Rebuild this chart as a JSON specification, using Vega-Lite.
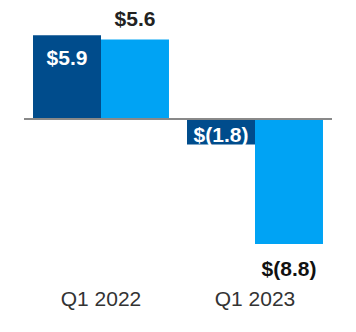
{
  "$schema": "https://vega.github.io/schema/vega-lite/v6.json",
  "width": 308,
  "height": 285,
  "padding": {"left": 24, "right": 24, "top": 0, "bottom": 47},
  "autosize": "none",
  "config": {"view": {"stroke": null}, "font": "Liberation Sans"},
  "data": {"values": [
    {"quarter": "Q1 2022", "series": "A", "value": 5.9, "label": "$5.9"},
    {"quarter": "Q1 2022", "series": "B", "value": 5.6, "label": "$5.6"},
    {"quarter": "Q1 2023", "series": "A", "value": -1.8, "label": "$(1.8)"},
    {"quarter": "Q1 2023", "series": "B", "value": -8.8, "label": "$(8.8)"}
  ]},
  "encoding": {
    "x": {"field": "quarter", "type": "nominal", "scale": {"paddingInner": 0.117, "paddingOuter": 0.0585},
      "axis": {"title": null, "domain": false, "ticks": false, "labelAngle": 0, "labelFontSize": 21, "labelColor": "#333333", "labelPadding": 3, "labelFont": "Liberation Sans"}},
    "xOffset": {"field": "series", "type": "nominal", "scale": {"paddingInner": 0, "paddingOuter": 0}},
    "y": {"field": "value", "type": "quantitative", "scale": {"domain": [-11.69, 8.38], "nice": false}, "axis": null}
  },
  "layer": [
    {"mark": {"type": "bar"},
     "encoding": {"color": {"field": "series", "type": "nominal", "scale": {"domain": ["A", "B"], "range": ["#004C8C", "#00A3F4"]}, "legend": null}}},
    {"mark": {"type": "rule", "color": "#888888", "strokeWidth": 1.5},
     "encoding": {"x": {"value": 0}, "x2": {"value": 308}, "y": {"datum": 0}, "xOffset": null}},
    {"transform": [{"filter": "datum.series == 'A' && datum.value > 0"}],
     "mark": {"type": "text", "fontWeight": "bold", "fontSize": 21, "color": "white", "baseline": "middle", "dy": 24},
     "encoding": {"text": {"field": "label"}}},
    {"transform": [{"filter": "datum.series == 'A' && datum.value < 0"}],
     "mark": {"type": "text", "fontWeight": "bold", "fontSize": 21, "color": "white", "baseline": "middle", "dy": -9},
     "encoding": {"text": {"field": "label"}}},
    {"transform": [{"filter": "datum.series == 'B' && datum.value > 0"}],
     "mark": {"type": "text", "fontWeight": "bold", "fontSize": 21, "color": "#222222", "baseline": "middle", "dy": -19},
     "encoding": {"text": {"field": "label"}}},
    {"transform": [{"filter": "datum.series == 'B' && datum.value < 0"}],
     "mark": {"type": "text", "fontWeight": "bold", "fontSize": 21, "color": "#111111", "baseline": "middle", "dy": 26},
     "encoding": {"text": {"field": "label"}}}
  ]
}
